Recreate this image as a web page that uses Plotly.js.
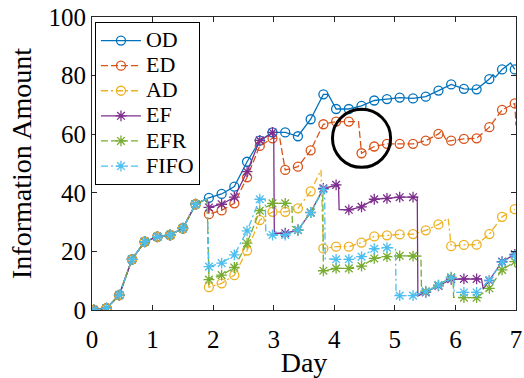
<!DOCTYPE html>
<html><head><meta charset="utf-8">
<script src="https://cdn.plot.ly/plotly-3.0.1.min.js"></script>
<style>html,body{margin:0;padding:0;background:#fff}#chart{width:524px;height:378px}</style>
</head><body><div id="chart"></div>
<script>
// Sample days where markers are placed
const days = [0.03,0.24,0.45,0.66,0.87,1.08,1.29,1.50,1.71,1.93,2.14,2.35,2.56,2.77,2.98,3.19,3.40,3.61,3.82,4.03,4.24,4.45,4.66,4.87,5.08,5.30,5.51,5.72,5.93,6.14,6.35,6.56,6.77,6.98];

const odVals   = [0,0.6,5.1,17.3,23.3,25.0,25.6,27.9,36.1,38.3,39.6,42.1,50.6,57.8,60.6,60.6,59.3,65.1,73.6,68.6,68.6,69.7,71.5,72.0,72.5,72.2,72.8,74.9,77.0,75.5,75.3,78.8,82.1,82.1];
const edVals   = [0,0.6,5.1,17.3,23.3,25.0,25.6,27.9,36.1,32.7,34.0,36.4,45.3,56.0,58.6,47.8,48.9,54.5,63.4,64.3,64.3,53.5,55.8,56.7,56.7,56.7,57.8,60.1,57.8,58.4,58.6,62.4,68.3,70.5];
const adVals   = [0,0.6,5.1,17.3,23.3,25.0,25.6,27.9,36.1,7.8,9.1,11.9,20.3,30.7,33.5,33.5,34.7,40.5,21.0,21.6,21.6,23.0,25.1,25.5,25.8,25.9,27.2,29.2,21.8,22.2,22.3,25.9,31.8,34.4];
const efVals   = [0,0.6,5.1,17.3,23.3,25.0,25.6,27.9,36.1,35.0,36.1,38.5,47.2,57.9,60.6,26.2,27.3,33.3,41.5,42.7,34.2,35.2,37.8,38.1,38.5,38.5,6.0,8.2,10.5,10.6,10.6,10.0,16.5,19.0];
const efrVals  = [0,0.6,5.1,17.3,23.3,25.0,25.6,27.9,36.1,10.4,11.9,14.5,22.8,33.9,36.4,36.4,27.3,33.2,13.4,14.2,14.2,15.0,17.6,18.2,18.5,18.4,6.4,8.5,11.2,4.2,4.2,7.4,13.7,16.5];
const fifoVals = [0,0.6,5.1,17.3,23.3,25.0,25.6,27.9,36.1,14.8,16.0,18.8,27.0,37.8,25.6,25.6,27.3,33.2,41.2,17.3,17.3,18.2,20.9,21.3,4.9,4.9,6.2,8.5,11.0,6.0,6.0,10.2,16.3,18.6];

// Extra line vertices between markers (jumps in the underlying series)
const odStepDays   = [3.90,6.62,6.66,6.91];
const odStepVals   = [73.6,80.3,79.5,84.3];
const edStepDays   = [1.90,3.10,4.40,5.77,5.86,7.00];
const edStepVals   = [38.0,58.6,64.3,61.1,57.5,63.0];
const adStepDays   = [1.90,3.78,5.88];
const adStepVals   = [38.0,47.8,31.3];
const efStepDays   = [1.90,3.00,3.01,4.07,4.08,5.37,5.38,6.43,6.46];
const efStepVals   = [38.0,60.6,26.2,42.7,34.3,38.5,4.8,10.6,7.1];
const efrStepDays  = [1.90,3.30,3.31,3.81,5.43,5.44,5.96,5.97];
const efrStepVals  = [38.0,36.4,28.5,41.2,18.4,7.0,11.2,4.3];
const fifoStepDays = [1.90,2.86,2.87,3.84,3.85,5.01,5.02,5.97,5.98,7.00];
const fifoStepVals = [38.0,37.8,26.0,41.2,17.5,21.2,5.0,11.0,6.0,13.7];

const seriesNames = ['OD','ED','AD','EF','EFR','FIFO'];

const highlight = {x0:3.97, x1:4.93, y0:48.7, y1:68.5};

const styles = [
  {color:'#0072BD', dash:'solid',            symbol:'circle-open',   size:9},
  {color:'#D95319', dash:'7px,3px',          symbol:'circle-open',   size:9},
  {color:'#EDB120', dash:'7px,3px,2px,3px',  symbol:'circle-open',   size:9},
  {color:'#7E2F8E', dash:'solid',            symbol:'asterisk-open', size:9},
  {color:'#77AC30', dash:'7px,3px',          symbol:'asterisk-open', size:9},
  {color:'#4DBEEE', dash:'7px,3px,2px,3px',  symbol:'asterisk-open', size:9}
];
const valsList = [odVals, edVals, adVals, efVals, efrVals, fifoVals];
const stepD = [odStepDays, edStepDays, adStepDays, efStepDays, efrStepDays, fifoStepDays];
const stepV = [odStepVals, edStepVals, adStepVals, efStepVals, efrStepVals, fifoStepVals];

const traces = [];
seriesNames.forEach((name, i) => {
  const st = styles[i];
  const pts = days.map((d, j) => [d, valsList[i][j]])
    .concat(stepD[i].map((d, j) => [d, stepV[i][j]]))
    .sort((a, b) => a[0] - b[0]);
  const line = {color: st.color, width: 1.3, dash: st.dash};
  const marker = {symbol: st.symbol, size: st.size, color: st.color, line: {color: st.color, width: 1.3}};
  traces.push({x: pts.map(p => p[0]), y: pts.map(p => p[1]), mode: 'lines', line: line,
    showlegend: false, legendgroup: name, hoverinfo: 'skip'});
  traces.push({x: days, y: valsList[i], mode: 'markers', marker: marker,
    showlegend: false, legendgroup: name});
  traces.push({x: [null], y: [null], mode: 'lines+markers', name: '<span style="font-size:22px">' + name + '</span>',
    line: line, marker: marker, legendgroup: name, showlegend: true});
});

const axisCommon = {
  showline: true, linecolor: '#262626', linewidth: 1, mirror: 'ticks',
  ticks: 'inside', ticklen: 5, tickwidth: 1, tickcolor: '#262626',
  showgrid: false, zeroline: false,
  tickfont: {size: 25, color: '#000'}
};

const layout = {
  width: 524, height: 378,
  margin: {l: 92, r: 8, t: 17, b: 68},
  paper_bgcolor: '#fff', plot_bgcolor: '#fff',
  font: {family: '"Liberation Serif", "Times New Roman", serif', color: '#000'},
  xaxis: Object.assign({}, axisCommon, {range: [0, 7], tickvals: [0,1,2,3,4,5,6,7],
    ticklabelstandoff: 7,
    title: {text: 'Day', font: {size: 28}, standoff: 1}}),
  yaxis: Object.assign({}, axisCommon, {range: [0, 100], tickvals: [0,20,40,60,80,100],
    title: {text: 'Information Amount', font: {size: 28}, standoff: 8}}),
  legend: {x: 0.007, y: 0.983, xanchor: 'left', yanchor: 'top', bgcolor: '#fff',
    bordercolor: '#000', borderwidth: 1, font: {size: 17}, itemwidth: 40, tracegroupgap: 0},
  shapes: [{type: 'circle', xref: 'x', yref: 'y', x0: highlight.x0, x1: highlight.x1,
    y0: highlight.y0, y1: highlight.y1, line: {color: '#000', width: 3}}]
};

Plotly.newPlot('chart', traces, layout, {staticPlot: true, displayModeBar: false});
</script>
</body></html>
